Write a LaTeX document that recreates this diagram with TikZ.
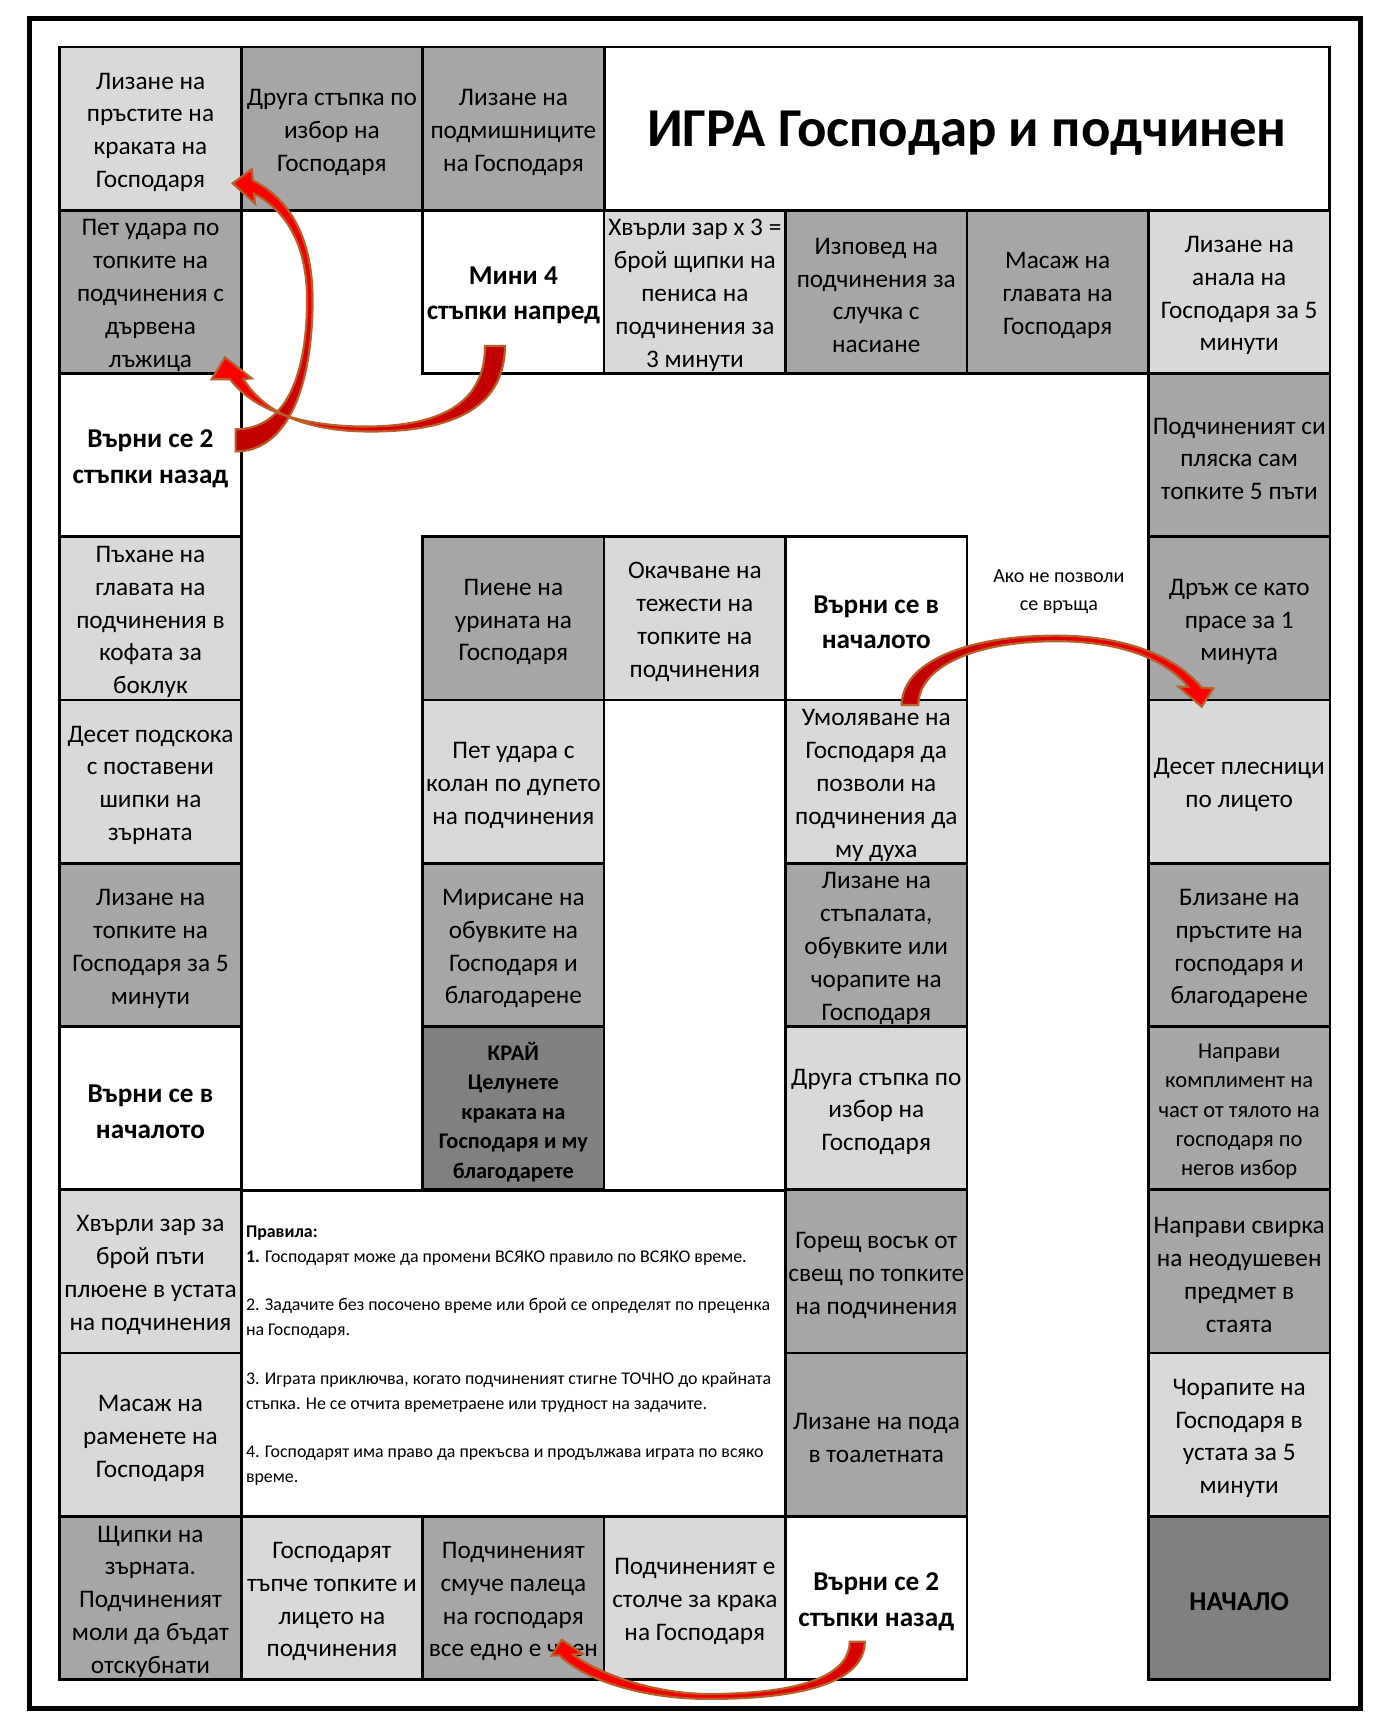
\documentclass[tikz,border=0pt]{standalone}
\usepackage{fontspec}
\setmainfont{Carlito}
\definecolor{lightg}{HTML}{D9D9D9}
\definecolor{medg}{HTML}{A6A6A6}
\definecolor{darkg}{HTML}{808080}
\definecolor{arrowred}{HTML}{FF0000}
\definecolor{arrowdark}{HTML}{C00000}
\definecolor{arrowbrown}{RGB}{185,95,40}
\newcommand\cellfnt{\fontsize{13}{16.9}\selectfont}
\newcommand\boldfnt{\fontsize{14}{18.2}\selectfont\bfseries}
\newcommand\smallbold{\fontsize{11.5}{15.2}\selectfont\bfseries}
\newcommand\smallfnt{\fontsize{11.6}{15.1}\selectfont}
\newcommand\rulefnt{\fontsize{9.2}{12.8}\selectfont}
\newcommand\notefnt{\fontsize{10.3}{14.2}\selectfont}
\newcommand\titlefnt{\fontsize{28.2}{33}\selectfont\bfseries}
% cell: [text options]{style}{name}{position}{text}
\newcommand\gcell[5][]{\node[#2] (#3) at (#4) {};\node[celltxt,#1] (#3t) at ([yshift=-0.066cm]#3.center) {#5};}
\begin{document}
\begin{tikzpicture}[x=0.02cm,y=-0.02cm,
  cell/.style={draw=black,line width=1.4pt,minimum width=3.28cm,minimum height=2.951cm,inner sep=0pt},
  lt/.style={cell,fill=lightg},
  md/.style={cell,fill=medg},
  dk/.style={cell,fill=darkg},
  wt/.style={cell,fill=white},
  celltxt/.style={align=center,inner sep=0pt,font=\cellfnt},
  bld/.style={font=\boldfnt},
  arrowshape/.style={draw=arrowbrown,line width=1.1pt,line join=miter}]
\useasboundingbox (0,0) rectangle (1250,1563.6);
\draw[line width=2.6pt] (26.5,17) rectangle (1229.5,1544);
% row 0
\gcell{lt}{r0c0}{136,116.3}{Лизане на\\пръстите на\\краката на\\Господаря}
\gcell{md}{r0c1}{300,116.3}{Друга стъпка по\\избор на\\Господаря}
\gcell{md}{r0c2}{464,116.3}{Лизане на\\подмишниците\\на Господаря}
\node[wt,minimum width=13.12cm] (title) at (874,116.3) {};
\node[inner sep=0pt,font=\titlefnt] (titlet) at ([yshift=-0.08cm]title.center) {ИГРА Господар и подчинен};
% row 1
\gcell{md}{r1c0}{136,263.8}{Пет удара по\\топките на\\подчинения с\\дървена\\лъжица}
\gcell[bld]{wt}{r1c2}{464,263.8}{Мини 4\\стъпки напред}
\gcell{lt}{r1c3}{628,263.8}{Хвърли зар x 3 =\\брой щипки на\\пениса на\\подчинения за\\3 минути}
\gcell{md}{r1c4}{792,263.8}{Изповед на\\подчинения за\\случка с\\насиане}
\gcell{md}{r1c5}{956,263.8}{Масаж на\\главата на\\Господаря}
\gcell{lt}{r1c6}{1120,263.8}{Лизане на\\анала на\\Господаря за 5\\минути}
% row 2
\gcell[bld]{wt}{r2c0}{136,411.4}{Върни се 2\\стъпки назад}
\gcell{md}{r2c6}{1120,411.4}{Подчиненият си\\пляска сам\\топките 5 пъти}
% row 3
\gcell{lt}{r3c0}{136,558.9}{Пъхане на\\главата на\\подчинения в\\кофата за\\боклук}
\gcell{md}{r3c2}{464,558.9}{Пиене на\\урината на\\Господаря}
\gcell{lt}{r3c3}{628,558.9}{Окачване на\\тежести на\\топките на\\подчинения}
\gcell[bld]{wt}{r3c4}{792,558.9}{Върни се в\\началото}
\gcell{md}{r3c6}{1120,558.9}{Дръж се като\\прасе за 1\\минута}
% row 4
\gcell{lt}{r4c0}{136,706.5}{Десет подскока\\с поставени\\шипки на\\зърната}
\gcell{lt}{r4c2}{464,706.5}{Пет удара с\\колан по дупето\\на подчинения}
\gcell{lt}{r4c4}{792,706.5}{Умоляване на\\Господаря да\\позволи на\\подчинения да\\му духа}
\gcell{lt}{r4c6}{1120,706.5}{Десет плесници\\по лицето}
% row 5
\gcell{md}{r5c0}{136,854.1}{Лизане на\\топките на\\Господаря за 5\\минути}
\gcell{md}{r5c2}{464,854.1}{Мирисане на\\обувките на\\Господаря и\\благодарене}
\gcell{md}{r5c4}{792,854.1}{Лизане на\\стъпалата,\\обувките или\\чорапите на\\Господаря}
\gcell{md}{r5c6}{1120,854.1}{Близане на\\пръстите на\\господаря и\\благодарене}
% row 6
\gcell[bld]{wt}{r6c0}{136,1001.6}{Върни се в\\началото}
\gcell[font=\smallbold]{dk}{r6c2}{464,1001.6}{КРАЙ\\Целунете\\краката на\\Господаря и му\\благодарете}
\gcell{lt}{r6c4}{792,1001.6}{Друга стъпка по\\избор на\\Господаря}
\gcell[font=\smallfnt]{md}{r6c6}{1120,1001.6}{Направи\\комплимент на\\част от тялото на\\господаря по\\негов избор}
% row 7
\gcell{lt}{r7c0}{136,1149.2}{Хвърли зар за\\брой пъти\\плюене в устата\\на подчинения}
\node[wt,minimum width=9.84cm,minimum height=5.902cm] (rulesbox) at (464,1223.2) {};
\gcell{md}{r7c4}{792,1149.2}{Горещ восък от\\свещ по топките\\на подчинения}
\gcell{md}{r7c6}{1120,1149.2}{Направи свирка\\на неодушевен\\предмет в\\стаята}
% row 8
\gcell{lt}{r8c0}{136,1296.7}{Масаж на\\раменете на\\Господаря}
\gcell{md}{r8c4}{792,1296.7}{Лизане на пода\\в тоалетната}
\gcell{lt}{r8c6}{1120,1296.7}{Чорапите на\\Господаря в\\устата за 5\\минути}
% row 9
\gcell{md}{r9c0}{136,1444.3}{Щипки на\\зърната.\\Подчиненият\\моли да бъдат\\отскубнати}
\gcell{lt}{r9c1}{300,1444.3}{Господарят\\тъпче топките и\\лицето на\\подчинения}
\gcell{md}{r9c2}{464,1444.3}{Подчиненият\\смуче палеца\\на господаря\\все едно е член}
\gcell{lt}{r9c3}{628,1444.3}{Подчиненият е\\столче за крака\\на Господаря}
\gcell[bld]{wt}{r9c4}{792,1444.3}{Върни се 2\\стъпки назад}
\gcell[bld]{dk}{r9c6}{1120,1444.3}{НАЧАЛО}
% rules text
\node[anchor=north west,align=left,inner sep=0pt,font=\rulefnt] (rules) at (222,1107.5)
 {\textbf{Правила:}\\
  \textbf{1.} Господарят може да промени ВСЯКО правило по ВСЯКО време.\\[12.2pt]
  2. Задачите без посочено време или брой се определят по преценка\\
  на Господаря.\\[12.2pt]
  3. Играта приключва, когато подчиненият стигне ТОЧНО до крайната\\
  стъпка. Не се отчита времетраене или трудност на задачите.\\[12.2pt]
  4. Господарят има право да прекъсва и продължава играта по всяко\\
  време.};
% annotation
\node[align=center,inner sep=0pt,font=\notefnt] (note) at (957,535) {Ако не позволи\\се връща};
% arrows
\path[arrowshape,top color=arrowred,bottom color=arrowdark]
 (213,408) .. controls (262,408) and (282.5,345) .. (282.5,271)
 .. controls (282.5,215) and (262,180) .. (228.5,163)
 -- (227.5,153) -- (210.3,165.7) -- (230.5,184) -- (229.5,175)
 .. controls (258,190) and (277.5,220) .. (277.5,271)
 .. controls (277.5,340) and (258,388) .. (213,388) -- cycle;
\path[arrowshape,left color=arrowred,right color=arrowdark]
 (456.4,312.7) .. controls (456,365) and (415,390) .. (335,390)
 .. controls (280,390) and (240,375) .. (220,342.5)
 -- (227.5,342) -- (203.4,323) -- (191.3,342.8) -- (208,342.8)
 .. controls (230,372) and (275,385.5) .. (330,385.5)
 .. controls (405,385.5) and (438.4,360) .. (438.4,312.7) -- cycle;
\path[arrowshape,left color=arrowdark,right color=arrowred]
 (815,637.2) .. controls (815,600) and (870,574.5) .. (955,574.5)
 .. controls (1020,574.5) and (1065,595) .. (1086,621.5)
 -- (1096.6,622.1) -- (1086.1,638.7) -- (1065,620.6) -- (1074,621)
 .. controls (1055,597) and (1015,579.5) .. (955,579.5)
 .. controls (880,579.5) and (830,603) .. (830,637.2) -- cycle;
\path[arrowshape,left color=arrowred,right color=arrowdark!60!arrowred]
 (781.6,1483.8) .. controls (781.6,1515) and (740,1535.5) .. (640,1535.5)
 .. controls (585,1535.5) and (530,1520) .. (505.5,1496)
 -- (498.6,1496.4) -- (507.6,1482) -- (526.6,1494.6) -- (518,1495.5)
 .. controls (540,1512) and (590,1531) .. (640,1531)
 .. controls (735,1531) and (768,1510) .. (768,1483.8) -- cycle;
\end{tikzpicture}
\end{document}
